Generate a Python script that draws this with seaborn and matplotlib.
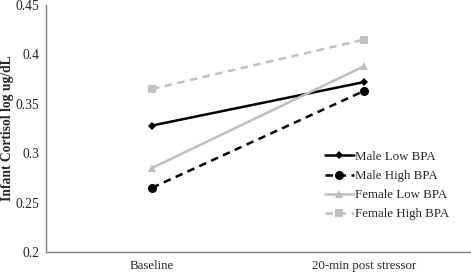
import matplotlib
matplotlib.use("Agg")
import matplotlib.pyplot as plt
import seaborn as sns
import pandas as pd

timepoints = ["Baseline", "20-min post stressor"]
groups = ["Male Low BPA", "Male High BPA", "Female Low BPA", "Female High BPA"]
male_low = [0.328, 0.372]
male_high = [0.265, 0.363]
female_low = [0.285, 0.388]
female_high = [0.365, 0.415]
y_ticks = [0.2, 0.25, 0.3, 0.35, 0.4, 0.45]
y_tick_labels = ["0.2", "0.25", "0.3", "0.35", "0.4", "0.45"]

rows = []
for g, vals in zip(groups, [male_low, male_high, female_low, female_high]):
    for i, v in enumerate(vals):
        rows.append({"pos": i, "time": timepoints[i], "group": g, "value": v})
df = pd.DataFrame(rows)

sns.set_style("white")
plt.rcParams["font.family"] = ["Liberation Serif", "DejaVu Serif"]

fig = plt.figure(figsize=(4.71, 2.73), dpi=100)
ax = fig.add_axes([46/471, 1-252/273, 424/471, 247/273])

palette = {"Male Low BPA": "#000000", "Male High BPA": "#000000",
           "Female Low BPA": "#BFBFBF", "Female High BPA": "#C0C0C0"}
markers = {"Male Low BPA": "D", "Male High BPA": "o",
           "Female Low BPA": "^", "Female High BPA": "s"}
dashes = {"Male Low BPA": "", "Male High BPA": (3, 2.2),
          "Female Low BPA": "", "Female High BPA": (3, 2.2)}
sizes_m = {"Male Low BPA": 4.5, "Male High BPA": 6.5,
           "Female Low BPA": 6, "Female High BPA": 6}

sns.lineplot(data=df, x="pos", y="value", hue="group", style="group",
             hue_order=groups, style_order=groups, palette=palette,
             markers=markers, dashes=dashes, linewidth=1.8,
             markeredgewidth=0, ax=ax, legend="full")
for line, g in zip(ax.get_lines(), groups):
    line.set_markersize(sizes_m[g])

ax.set_xlim(-0.5, 1.5)
ax.set_ylim(0.2, 0.45)
ax.set_yticks(y_ticks)
ax.set_yticklabels(y_tick_labels, fontsize=9.8)
ax.set_xticks([-0.5, 0.5, 1.5])
ax.set_xticklabels(["", "", ""])
ax.set_xticks([0, 1], minor=True)
ax.set_xticklabels(timepoints, minor=True, fontsize=9.3)
ax.tick_params(axis="x", which="minor", length=0, pad=6)
ax.tick_params(axis="x", which="major", length=4, color="#808080", direction="out")
ax.tick_params(axis="y", length=3, color="#808080", direction="out", pad=2)
ax.set_xlabel("")
ax.set_ylabel("Infant Cortisol log ug/dL", fontsize=9.8, fontweight="bold")
ax.yaxis.set_label_coords(-0.076, 0.5)

for s in ["top", "right"]:
    ax.spines[s].set_visible(False)
for s in ["left", "bottom"]:
    ax.spines[s].set_color("#808080")
    ax.spines[s].set_linewidth(1.0)

h, l = ax.get_legend_handles_labels()
for hh, g in zip(h, l):
    if g in sizes_m:
        hh.set_markersize(sizes_m[g])
ax.legend(h, l, loc="upper left", bbox_to_anchor=(0.645, 0.43), frameon=False,
          fontsize=9.3, handlelength=2.25, handletextpad=0.1, labelspacing=0.55,
          borderaxespad=0)

fig.savefig("out.png", dpi=100)
